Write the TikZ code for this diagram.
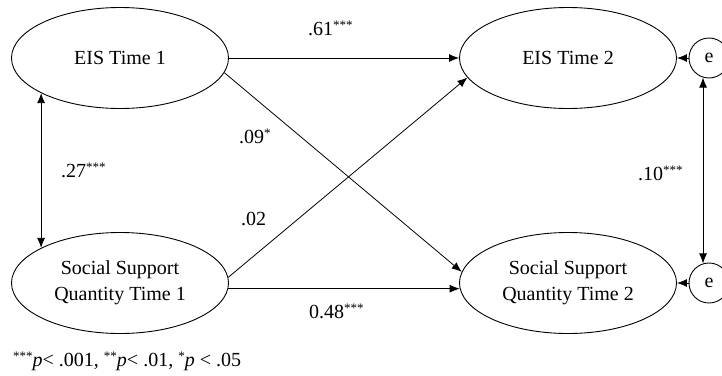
\documentclass[tikz,border=0pt]{standalone}
\usepackage{fontspec}
\setmainfont{Liberation Serif}
\usetikzlibrary{arrows.meta, shapes.geometric}

\newcommand{\sigmark}[1]{\raisebox{0.55ex}{\fontsize{13}{13}\selectfont #1}}

\begin{document}
\begin{tikzpicture}[x=1pt, y=-1pt, font=\fontsize{20}{26}\selectfont,
		latent/.style={draw, ellipse, line width=0.9pt, minimum width=217pt, minimum height=101pt, inner sep=0pt, align=center},
		resid/.style={draw, circle, line width=0.9pt, minimum size=40pt, inner sep=0pt},
		effect/.style={-{Latex[length=10pt, width=8pt]}, line width=0.8pt},
		covar/.style={{Latex[length=10pt, width=8pt]}-{Latex[length=10pt, width=8pt]}, line width=0.8pt},
		coef/.style={anchor=base west, inner sep=0pt}]
		
		\useasboundingbox (0,0) rectangle (722,375);
		
		% --- LATENT VARIABLES ---
		\node[latent] (EISone) at (120,58) {EIS Time 1};
		\node[latent] (EIStwo) at (568,58) {EIS Time 2};
		\node[latent] (SSQone) at (120,283) {Social Support\\Quantity Time 1};
		\node[latent] (SSQtwo) at (568,283) {Social Support\\Quantity Time 2};
		
		% --- RESIDUALS ---
		\node[resid] (ETop) at (709,58) {e};
		\node[resid] (EBot) at (709,283) {e};
		
		% --- PATHS ---
		\draw[effect] (EISone.east) -- (EIStwo.west);
		\draw[effect] (SSQone.-3) -- (SSQtwo.183);
		\draw[effect] (EISone.-8.5) -- (SSQtwo.174);
		\draw[effect] (SSQone.3) -- (EIStwo.191);
		\draw[effect] (ETop.west) -- (EIStwo.east);
		\draw[effect] (EBot.west) -- (SSQtwo.east);
		
		% --- COVARIANCES ---
		\draw[covar] (EISone.204) -- (SSQone.156);
		\draw[covar] (ETop.253) -- (EBot.107);
		
		% --- COEFFICIENTS ---
		\node[coef] (bEIS) at (308,35) {.61\sigmark{***}};
		\node[coef] (bCross) at (239,143) {.09\sigmark{*}};
		\node[coef] (rOne) at (61,177) {.27\sigmark{***}};
		\node[coef] (rTwo) at (638,180) {.10\sigmark{***}};
		\node[coef] (bBack) at (241,225) {.02};
		\node[coef] (bSSQ) at (309,318) {0.48\sigmark{***}};
		
		% Significance note
		\node[coef] (note) at (13,366) {\sigmark{***}\textit{p}< .001, \sigmark{**}\textit{p}< .01, \sigmark{*}\textit{p} < .05};
		
	\end{tikzpicture}
\end{document}
